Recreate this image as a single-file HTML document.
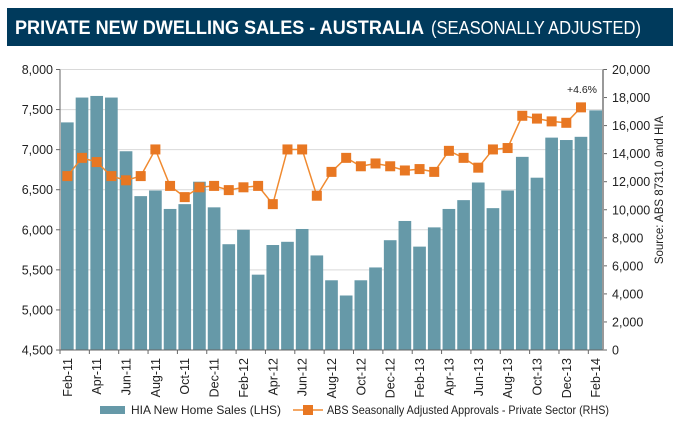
<!DOCTYPE html>
<html><head><meta charset="utf-8"><style>
html,body{margin:0;padding:0;background:#fff;}
svg{display:block;font-family:"Liberation Sans",Arial,sans-serif;}
</style></head><body>
<svg id="chart" width="680" height="423" viewBox="0 0 680 423">
<rect x="7" y="8" width="666" height="38" fill="#003a5c"/>
<text x="15" y="34" fill="#fff" font-size="19" font-weight="bold" textLength="409" lengthAdjust="spacingAndGlyphs">PRIVATE NEW DWELLING SALES -  AUSTRALIA</text>
<text x="431" y="34" fill="#fff" font-size="18" textLength="210" lengthAdjust="spacingAndGlyphs">(SEASONALLY ADJUSTED)</text>
<g id="grid"></g><g id="bars"></g><g id="line"></g><g id="axes"></g>
<text transform="translate(663,190) rotate(-90)" text-anchor="middle" font-size="11.5" fill="#222">Source: ABS 8731.0 and HIA</text>
<text x="582" y="93" text-anchor="middle" font-size="10.5" fill="#222">+4.6%</text>
<g>
<rect x="100" y="406" width="25" height="8" fill="#6699a8"/>
<text x="131" y="414" font-size="12" fill="#222">HIA New Home Sales (LHS)</text>
<line x1="293" y1="410" x2="323" y2="410" stroke="#f08a30" stroke-width="1.5"/>
<rect x="303" y="405" width="10" height="10" fill="#e87722"/>
<text x="327" y="414" font-size="12" fill="#222" textLength="282" lengthAdjust="spacingAndGlyphs">ABS Seasonally Adjusted Approvals - Private Sector (RHS)</text>
</g>
</svg>
<script>
const months = ["Feb-11","Mar-11","Apr-11","May-11","Jun-11","Jul-11","Aug-11","Sep-11","Oct-11","Nov-11","Dec-11","Jan-12","Feb-12","Mar-12","Apr-12","May-12","Jun-12","Jul-12","Aug-12","Sep-12","Oct-12","Nov-12","Dec-12","Jan-13","Feb-13","Mar-13","Apr-13","May-13","Jun-13","Jul-13","Aug-13","Sep-13","Oct-13","Nov-13","Dec-13","Jan-14","Feb-14"];
const sales = [7340,7650,7670,7650,6980,6420,6490,6260,6320,6600,6280,5820,6000,5440,5810,5850,6010,5680,5370,5180,5370,5530,5870,6110,5790,6030,6260,6370,6590,6270,6490,6910,6650,7150,7120,7160,7490];
const approvals = [12400,13700,13400,12400,12100,12400,14300,11700,10900,11600,11700,11400,11600,11700,10400,14300,14300,11000,12700,13700,13100,13300,13100,12800,12900,12700,14200,13700,13000,14300,14400,16700,16500,16300,16200,17300,null];
const leftTicks = [4500,5000,5500,6000,6500,7000,7500,8000];
const rightTicks = [0,2000,4000,6000,8000,10000,12000,14000,16000,18000,20000];

const NS="http://www.w3.org/2000/svg";
const X0=60,X1=603,Y0=350,Y1=69.5;
const bw=(X1-X0)/months.length;
const yL=v=>Y0-(v-4500)/3500*(Y0-Y1);
const yR=v=>Y0-v/20000*(Y0-Y1);
const xc=i=>X0+bw*(i+0.5);
function mk(tag,attrs,parent){const e=document.createElementNS(NS,tag);for(const k in attrs)e.setAttribute(k,attrs[k]);document.getElementById(parent).appendChild(e);return e;}
const fmt=v=>v.toLocaleString("en-US");

leftTicks.forEach(t=>{
  const g=mk("line",{x1:X0,x2:X1,y1:yL(t),y2:yL(t),stroke:"#d9d9d9","stroke-width":1},"grid");
  
  
  const tx=mk("text",{x:X0-7,y:yL(t)+4.5,"text-anchor":"end","font-size":"12.5",fill:"#222"},"axes");
  tx.textContent=fmt(t);
  
  
  mk("line",{x1:X0-4,x2:X0,y1:yL(t),y2:yL(t),stroke:"#666"},"axes");
});
rightTicks.forEach(t=>{
  const tx=mk("text",{x:X1+9,y:yR(t)+4.5,"font-size":"12.5",fill:"#222"},"axes");
  tx.textContent=fmt(t);
  
  
  mk("line",{x1:X1,x2:X1+4,y1:yR(t),y2:yR(t),stroke:"#666"},"axes");
});
sales.forEach((v,i)=>{
  const r=mk("rect",{x:X0+bw*i+1,y:yL(v),width:bw-2,height:Y0-yL(v),fill:"#6699a8"},"bars");
  
  
});
let d="";
approvals.forEach((v,i)=>{if(v!==null)d+=(d?"L":"M")+xc(i)+","+yR(v);});
const p=mk("path",{d:d,fill:"none",stroke:"#f08a30","stroke-width":1.5},"line");


approvals.forEach((v,i)=>{
  if(v===null)return;
  const m=mk("rect",{x:xc(i)-5,y:yR(v)-5,width:10,height:10,fill:"#e87722"},"line");
  
  
});
mk("line",{x1:X0,x2:X0,y1:Y1,y2:Y0,stroke:"#666"},"axes");
mk("line",{x1:X1,x2:X1,y1:Y1,y2:Y0,stroke:"#999","stroke-width":2},"axes");
mk("line",{x1:X0,x2:X1,y1:Y0,y2:Y0,stroke:"#666"},"axes");
months.forEach((m,i)=>{
  if(i%2)return;
  mk("line",{x1:X0+bw*i,x2:X0+bw*i,y1:Y0,y2:Y0+4,stroke:"#666"},"axes");
  const t=mk("text",{transform:`translate(${xc(i)+4.5},${Y0+8}) rotate(-90)`,"text-anchor":"end","font-size":"12.5",fill:"#222"},"axes");
  t.textContent=m;
  
  
});
</script>
</body></html>
